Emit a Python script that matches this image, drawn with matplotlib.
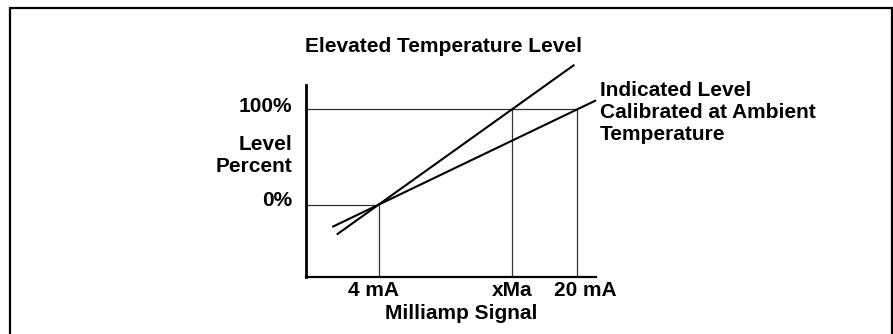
import matplotlib
matplotlib.use("Agg")
import matplotlib.pyplot as plt
from matplotlib.patches import Rectangle

# Signal scale (mA) and level scale (%)
signal_ticks = [4, 14.74, 20]
signal_labels = ["4 mA", "xMa", "20 mA"]
level_ticks = [0, 100]
level_labels = ["0%", "100%"]

# Calibration line: 4 mA -> 0 %, 20 mA -> 100 %
indicated_x = [0.28, 21.5]
indicated_y = [-23.3, 109.4]
# Elevated temperature line: 4 mA -> 0 %, xMa -> 100 %
elevated_x = [0.64, 19.76]
elevated_y = [-31.3, 146.7]

W, H = 893, 334
fig = plt.figure(figsize=(W / 100, H / 100), dpi=100)
plt.rcParams["font.family"] = ["Liberation Sans", "DejaVu Sans"]

def fx(px):
    return px / W

def fy(py):
    return 1 - py / H

# outer frame (open at the bottom)
fig.patches.append(Rectangle((fx(10), fy(H + 20)), fx(882), (H + 12) / H,
                             transform=fig.transFigure, fill=False,
                             edgecolor="black", linewidth=1.6, clip_on=False))

ax = fig.add_axes([fx(306), fy(277), fx(596 - 306), (277 - 85) / H])
xmin, xmax = -1.835, 21.5
ymin, ymax = -75.8, 125.5
ax.set_xlim(xmin, xmax)
ax.set_ylim(ymin, ymax)
ax.patch.set_alpha(0)
for s in ("top", "right"):
    ax.spines[s].set_visible(False)
ax.spines["left"].set_linewidth(2.0)
ax.spines["bottom"].set_linewidth(1.6)
ax.set_xticks([])
ax.set_yticks([])

guide = dict(color="#333333", linewidth=0.9, solid_capstyle="butt")
x4, xm, x20 = signal_ticks
y0, y100 = level_ticks
# horizontal guides
ax.plot([xmin, x4], [y0, y0], **guide)
ax.plot([xmin, x20], [y100, y100], **guide)
# vertical guides
ax.plot([x4, x4], [ymin, y0], **guide)
ax.plot([xm, xm], [ymin, y100], **guide)
ax.plot([x20, x20], [ymin, y100], **guide)

ax.plot(indicated_x, indicated_y, color="black", linewidth=1.5,
        solid_capstyle="butt", clip_on=False)
ax.plot(elevated_x, elevated_y, color="black", linewidth=1.5,
        solid_capstyle="butt", clip_on=False)

bold = dict(fontweight="bold", fontsize=15.0, color="black")

# signal labels under the axis
for x, lab, dx in zip(signal_ticks, signal_labels, [-5, 0, 8]):
    ax.annotate(lab, xy=(x, ymin), xycoords="data",
                xytext=(dx * 0.72, -19.5 * 0.72), textcoords="offset points",
                ha="center", va="baseline", **bold)
fig.text(fx(461), fy(319), "Milliamp Signal", ha="center", va="baseline", **bold)

# level labels left of the axis
for y, lab, base in zip(level_ticks, level_labels, [206, 112]):
    fig.text(fx(292), fy(base), lab, ha="right", va="baseline", **bold)
fig.text(fx(292), fy(150), "Level", ha="right", va="baseline", **bold)
fig.text(fx(292), fy(171.5), "Percent", ha="right", va="baseline", **bold)

# line annotations
fig.text(fx(305), fy(52.5), "Elevated Temperature Level", ha="left",
         va="baseline", **bold)
for line, base in zip(["Indicated Level", "Calibrated at Ambient", "Temperature"],
                      [96, 118.5, 140.5]):
    fig.text(fx(600), fy(base), line, ha="left", va="baseline", **bold)

fig.savefig("out.png", dpi=100, facecolor="white")
